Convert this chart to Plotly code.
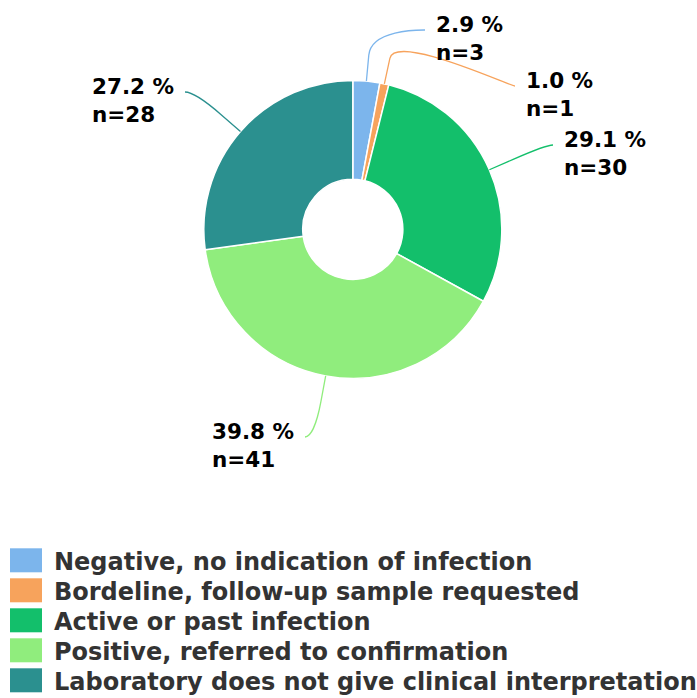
import math
import plotly.graph_objects as go

# ---- data ----
categories = [
    "Negative, no indication of infection",
    "Bordeline, follow-up sample requested",
    "Active or past infection",
    "Positive, referred to confirmation",
    "Laboratory does not give clinical interpretation",
]
counts = [3, 1, 30, 41, 28]
colors = ["#7cb5ec", "#f7a35c", "#13bf6b", "#90ed7d", "#2b908f"]

# ---- layout settings (pixels) ----
W, H = 697, 698
CX, CY, R = 352.8, 229.4, 149.0
HOLE = 0.336
# where each data-label connector ends (label placement)
label_ends = [(425, 30), (515, 86), (553, 145), (305, 437), (185, 92)]
BREAK = 26
LABEL_FONT = 21.5
LEGEND_FONT = 24

total = sum(counts)
fig = go.Figure()
fig.add_trace(go.Pie(
    labels=categories, values=counts,
    marker=dict(colors=colors, line=dict(color="white", width=1.5)),
    hole=HOLE, sort=False, direction="clockwise", rotation=0,
    textinfo="none", hoverinfo="label+value+percent", showlegend=False,
    domain=dict(x=[(CX - R) / W, (CX + R) / W], y=[1 - (CY + R) / H, 1 - (CY - R) / H]),
))
# invisible helper trace so the pixel-space overlay axes exist
fig.add_trace(go.Scatter(x=[0], y=[0], mode="markers", marker=dict(opacity=0),
                         hoverinfo="skip", showlegend=False))

cum = 0
for i, v in enumerate(counts):
    mid = (cum + v / 2) / total * 2 * math.pi
    cum += v
    dx, dy = math.sin(mid), -math.cos(mid)
    tx, ty = CX + R * dx, CY + R * dy
    bx, by = tx + BREAK * dx, ty + BREAK * dy
    c2x, c2y = tx + 2 * BREAK * dx, ty + 2 * BREAK * dy
    ex, ey = label_ends[i]
    right = ex > CX
    c1x = ex - 5 if right else ex + 5
    path = f"M {ex},{ey} C {c1x},{ey} {c2x:.2f},{c2y:.2f} {bx:.2f},{by:.2f} L {tx:.2f},{ty:.2f}"
    fig.add_shape(type="path", path=path, xref="x", yref="y",
                  line=dict(color=colors[i], width=1.3))
    pct = v / total * 100
    fig.add_annotation(
        x=ex + (9 if right else -9), y=ey + 8, xref="x", yref="y",
        text=f"{pct:.1f} %<br>n={v}", showarrow=False,
        xanchor="left" if right else "right", yanchor="middle", align="left",
        font=dict(family="DejaVu Sans", size=LABEL_FONT, color="#000000", weight="bold"),
    )

# ---- legend (drawn manually) ----
for i, cat in enumerate(categories):
    y0 = 548.3 + 30 * i
    fig.add_shape(type="rect", x0=10, x1=42, y0=y0, y1=y0 + 24, xref="x", yref="y",
                  fillcolor=colors[i], line=dict(width=0))
    fig.add_annotation(
        x=52, y=y0 + 14.1, xref="x", yref="y", text=cat, showarrow=False,
        xanchor="left", yanchor="middle",
        font=dict(family="DejaVu Sans", size=LEGEND_FONT, color="#333333", weight="bold"),
    )

fig.update_layout(
    width=W, height=H, margin=dict(l=0, r=0, t=0, b=0),
    paper_bgcolor="white", plot_bgcolor="white", showlegend=False,
    xaxis=dict(range=[0, W], visible=False, domain=[0, 1], fixedrange=True),
    yaxis=dict(range=[H, 0], visible=False, domain=[0, 1], fixedrange=True),
)
fig.write_html(
    "out.html",
    config={"displayModeBar": False},
    post_script="document.body.style.margin='0';document.body.style.overflow='hidden';",
)
